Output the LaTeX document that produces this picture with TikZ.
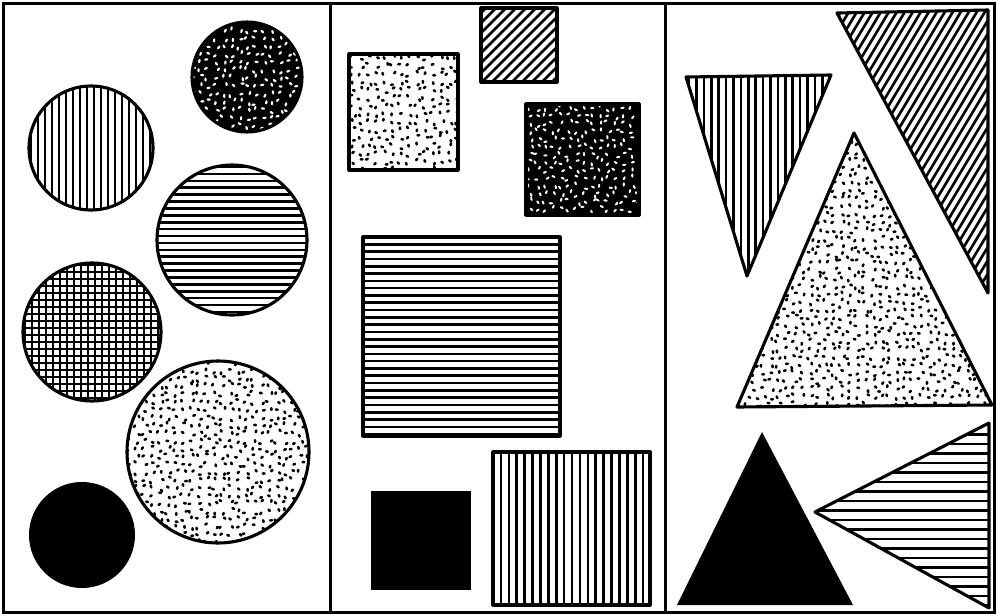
\documentclass[tikz,border=0pt]{standalone}
\begin{document}
\newcommand\stip[8]{% x0 y0 nx ny step colour xr yr
  \foreach \gi in {0,...,#3}{%
    \foreach \gj in {0,...,#4}{%
      \pgfmathsetmacro\px{#1+\gi*#5+2.9*rand}%
      \pgfmathsetmacro\py{#2+\gj*#5+2.9*rand}%
      \pgfmathsetmacro\pa{90*rand}%
      \fill[#6,shift={(\px,\py)},rotate=\pa] (0,0) ellipse [x radius=#7,y radius=#8];
    }}}
\begin{tikzpicture}[x=1pt,y=-1pt,
  outl/.style={line width=3.1pt,line join=round},
  hatch/.style={line width=2.6pt},
  frame/.style={line width=3pt}]
\pgfmathsetseed{7}
\useasboundingbox (0,0) rectangle (997,616);
\fill[white] (0,0) rectangle (997,616);
% frame
\draw[frame] (3,3) rectangle (994,612);
\draw[frame] (330,3) -- (330,612);
\draw[frame] (665,3) -- (665,612);

% ---------- panel 1: circles ----------
% dark speckled circle
\begin{scope}
  \clip (247,77) circle [radius=55];
  \fill (247,77) circle [radius=55];
  \stip{192}{22}{14}{14}{8}{white}{2.1}{1.2}
\end{scope}
\draw[outl] (247,77) circle [radius=55];
% vertical lines circle
\begin{scope}
  \clip (91,148) circle [radius=62];
  \foreach \i in {0,...,18} \draw[hatch] (31+\i*7,80) -- ++(0,140);
\end{scope}
\draw[outl] (91,148) circle [radius=62];
% horizontal lines circle
\begin{scope}
  \clip (232,240) circle [radius=75];
  \foreach \i in {0,...,22} \draw[hatch] (150,167+\i*6.9) -- ++(170,0);
\end{scope}
\draw[outl] (232,240) circle [radius=75];
% grid circle
\begin{scope}
  \clip (92,332) circle [radius=69];
  \foreach \i in {0,...,20} \draw[hatch] (25+\i*7,260) -- ++(0,145);
  \foreach \i in {0,...,20} \draw[hatch] (20,265+\i*7) -- ++(145,0);
\end{scope}
\draw[outl] (92,332) circle [radius=69];
% dotted circle
\begin{scope}
  \clip (218,452) circle [radius=91];
  \stip{129}{363}{23}{23}{7.8}{black}{2.0}{1.4}
\end{scope}
\draw[outl] (218,452) circle [radius=91];
% black circle
\fill (82,535) circle [radius=53];

% ---------- panel 2: squares ----------
% diagonal hatched square
\begin{scope}
  \clip (481,8) rectangle (557,82);
  \foreach \i in {0,...,16} \draw[hatch] (398+\i*10,86) -- ++(84,-84);
\end{scope}
\draw[outl] (481,8) rectangle (557,82);
% dotted square
\begin{scope}
  \clip (349,54) rectangle (458,170);
  \stip{353}{58}{13}{14}{8}{black}{2.0}{1.4}
\end{scope}
\draw[outl] (349,54) rectangle (458,170);
% dark speckled square
\begin{scope}
  \clip (526,104) rectangle (639,215);
  \fill (526,104) rectangle (639,215);
  \stip{530}{108}{14}{14}{7.8}{white}{2.1}{1.1}
\end{scope}
\draw[outl] (526,104) rectangle (639,215);
% horizontal striped rectangle
\begin{scope}
  \clip (363,237) rectangle (560,436);
  \foreach \i in {1,...,27} \draw[hatch] (360,237+\i*7.3) -- ++(205,0);
\end{scope}
\draw[outl] (363,237) rectangle (560,436);
% black square
\fill (371,491) rectangle (471,590);
% vertical striped rectangle
\begin{scope}
  \clip (493,452) rectangle (650,605);
  \foreach \i in {1,...,19} \draw[hatch] (493+\i*7.9,450) -- ++(0,160);
\end{scope}
\draw[outl] (493,452) rectangle (650,605);

% ---------- panel 3: triangles ----------
% inverted vertical-hatched triangle
\begin{scope}
  \clip (686,77) -- (831,75) -- (747,276) -- cycle;
  \foreach \i in {0,...,19} \draw[hatch] (689+\i*7.4,70) -- ++(0,210);
\end{scope}
\draw[outl] (686,77) -- (831,75) -- (747,276) -- cycle;
% diagonal-hatched triangle
\begin{scope}
  \clip (837,13) -- (988,10) -- (988,293) -- cycle;
  \foreach \i in {0,...,40} \draw[hatch] (660+\i*8,300) -- ++(174,-290);
\end{scope}
\draw[outl] (837,13) -- (988,10) -- (988,293) -- cycle;
% dotted triangle
\begin{scope}
  \clip (854,133) -- (992,405) -- (737,407) -- cycle;
  \stip{739}{136}{32}{34}{7.9}{black}{2.0}{1.4}
\end{scope}
\draw[outl] (854,133) -- (992,405) -- (737,407) -- cycle;
% black triangle
\fill[line join=round] (762,432) -- (853,605) -- (677,605) -- cycle;
% horizontal-hatched triangle
\begin{scope}
  \clip (815,512) -- (989,423) -- (989,608) -- cycle;
  \foreach \i in {0,...,19} \draw[hatch] (810,425+\i*9.5) -- ++(185,0);
\end{scope}
\draw[outl] (815,512) -- (989,423) -- (989,608) -- cycle;
\end{tikzpicture}
\end{document}
